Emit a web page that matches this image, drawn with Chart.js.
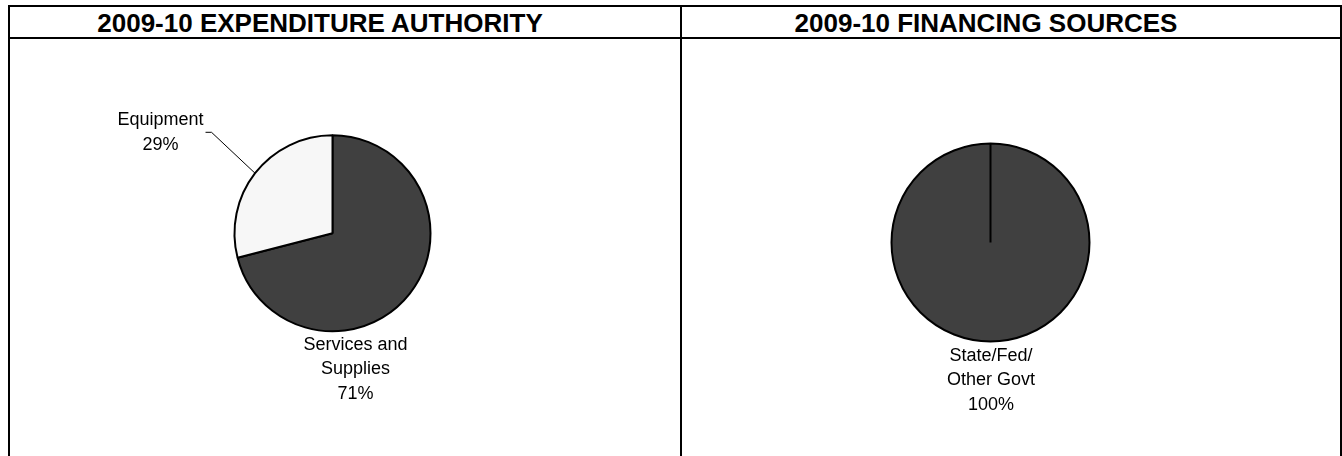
<!DOCTYPE html>
<html>
<head>
<meta charset="utf-8">
<script src="https://cdn.jsdelivr.net/npm/chart.js@4.4.0/dist/chart.umd.min.js"></script>
<style>
body { margin: 0; background: #fff; width: 1342px; height: 456px; overflow: hidden; position: relative; }
#frame { position: absolute; left: 8px; top: 5px; width: 1334px; height: 460px; border: 2px solid #000; box-sizing: border-box; }
.divider { position: absolute; left: 680px; top: 5px; width: 2px; height: 451px; background: #000; }
.hline { position: absolute; left: 8px; top: 37px; width: 1334px; height: 2px; background: #000; }
.title { position: absolute; top: 7px; height: 30px; line-height: 33px; text-align: center; white-space: nowrap;
  font-family: 'Liberation Sans', Arial, sans-serif;
  font-weight: bold; font-size: 26px; color: #000; }
canvas { position: absolute; }
</style>
</head>
<body>
<div id="frame"></div>
<div class="hline"></div>
<div class="divider"></div>
<div class="title" style="left:10px;width:620px;">2009-10 EXPENDITURE AUTHORITY</div>
<div class="title" style="left:682px;width:608px;">2009-10 FINANCING SOURCES</div>
<canvas id="gastos" width="670" height="417" style="left:10px;top:39px;"></canvas>
<canvas id="fuentes" width="658" height="417" style="left:682px;top:39px;"></canvas>

<script>
// Datos
const categoriasGasto = ['Services and Supplies', 'Equipment'];
const valoresGasto = [71, 29];
const etiquetasGasto = [['Services and', 'Supplies'], ['Equipment']];

const categoriasFuentes = ['State/Fed/Other Govt'];
const valoresFuentes = [100];
const etiquetasFuentes = [['State/Fed/', 'Other Govt']];

const COLOR_OSCURO = '#404040';
const COLOR_CLARO = '#F7F7F7';

// Etiquetas de porcentaje con linea guia opcional
const etiquetasPlugin = {
  id: 'etiquetasPie',
  afterDatasetsDraw(chart, args, opts) {
    const ctx = chart.ctx;
    const meta = chart.getDatasetMeta(0);
    const datos = chart.data.datasets[0].data;
    const total = datos.reduce((a, b) => a + b, 0);
    ctx.save();
    ctx.font = '18px "Liberation Sans", Arial, sans-serif';
    ctx.fillStyle = '#000';
    ctx.textAlign = 'center';
    ctx.textBaseline = 'middle';
    meta.data.forEach((arco, i) => {
      const p = arco.getProps(['x', 'y', 'startAngle', 'endAngle', 'outerRadius'], true);
      const pos = opts.posiciones[i];
      const lineas = opts.lineas[i].concat([Math.round(datos[i] / total * 100) + '%']);
      const cx = p.x + pos.dx;
      const cy = p.y + pos.dy;
      const alto = 24.5;
      lineas.forEach((t, j) => {
        ctx.fillText(t, cx, cy + (j - (lineas.length - 1) / 2) * alto);
      });
      if (pos.guia) {
        const anchoMax = Math.max(...lineas.map(t => ctx.measureText(t).width));
        const medio = (p.startAngle + p.endAngle) / 2;
        const bx = p.x + Math.cos(medio) * p.outerRadius;
        const by = p.y + Math.sin(medio) * p.outerRadius;
        const x0 = cx + anchoMax / 2 + 2;
        ctx.beginPath();
        ctx.strokeStyle = '#000';
        ctx.lineWidth = 1;
        ctx.moveTo(x0, cy);
        ctx.lineTo(x0 + 6, cy);
        ctx.lineTo(bx, by);
        ctx.stroke();
      }
    });
    ctx.restore();
  }
};

function relleno(w, h, cx, cy, r) {
  return { left: cx - r, right: w - cx - r, top: cy - r, bottom: h - cy - r };
}

function crearPie(id, categorias, valores, colores, lineas, posiciones, pad) {
  return new Chart(document.getElementById(id).getContext('2d'), {
    type: 'pie',
    data: {
      labels: categorias,
      datasets: [{
        data: valores,
        backgroundColor: colores,
        borderColor: '#000',
        borderWidth: 2,
        hoverOffset: 0
      }]
    },
    options: {
      responsive: false,
      animation: false,
      layout: { padding: pad },
      plugins: {
        legend: { display: false },
        tooltip: { enabled: false },
        etiquetasPie: { lineas: lineas, posiciones: posiciones }
      }
    },
    plugins: [etiquetasPlugin]
  });
}

crearPie('gastos', categoriasGasto, valoresGasto, [COLOR_OSCURO, COLOR_CLARO], etiquetasGasto,
  [{ dx: 23, dy: 136 }, { dx: -172, dy: -101, guia: true }],
  relleno(670, 417, 322.5, 194.3, 99));

crearPie('fuentes', categoriasFuentes, valoresFuentes, [COLOR_OSCURO], etiquetasFuentes,
  [{ dx: 0.5, dy: 138 }],
  relleno(658, 417, 308.5, 203.5, 100));
</script>
</body>
</html>
